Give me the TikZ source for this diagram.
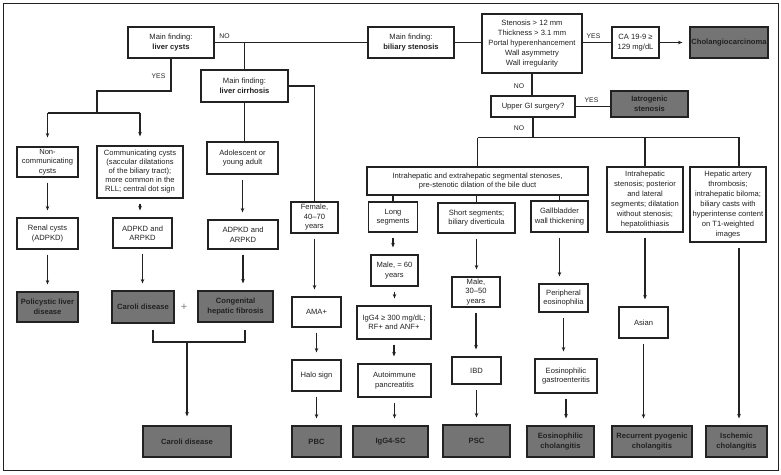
\documentclass[tikz,border=0pt]{standalone}
\usepackage{fontspec}
\setmainfont{Liberation Sans}
\usetikzlibrary{arrows.meta}
\definecolor{inkc}{RGB}{34,34,34}
\definecolor{resfill}{RGB}{116,116,116}

\begin{document}
\begin{tikzpicture}[x=1pt, y=-1pt, inkc, line width=1.1pt,
    every node/.style={font=\fontsize{7.6}{9.5}\selectfont, text=inkc},
    box/.style 2 args={draw=inkc, fill=white, align=center, inner sep=0pt, minimum width=#1pt, minimum height=#2pt},
    keybox/.style 2 args={box={#1}{#2}, line width=2.2pt, font=\fontsize{7.6}{10}\selectfont},
    result/.style 2 args={box={#1}{#2}, fill=resfill, font=\fontsize{7.6}{9.5}\selectfont\bfseries},
    lbl/.style={font=\fontsize{6.8}{8}\selectfont, inner sep=0pt},
    arr/.style={-{Stealth[length=4.5pt,width=3.6pt]}, shorten >=7pt},
    chainarr/.style={arr, shorten <=5pt}]
    \useasboundingbox (0,0) rectangle (781,474);
    \draw[line width=0.9pt] (3,3) rectangle (778,470);

    \node[box={86}{31}] (cysts) at (171,42.5) {Main finding:\\\textbf{liver cysts}};
    \node[box={87}{32}] (cirrhosis) at (244.5,86) {Main finding:\\\textbf{liver cirrhosis}};
    \node[box={86}{31}] (biliary) at (411,42.5) {Main finding:\\\textbf{biliary stenosis}};
    \node[keybox={100}{59}] (criteria) at (532,43.5) {Stenosis > 12 mm\\Thickness > 3.1 mm\\Portal hyperenhancement\\Wall asymmetry\\Wall irregularity};
    \node[box={47}{31}] (ca) at (635.5,42.5) {CA 19-9 ≥\\129 mg/dL};
    \node[result={78}{31}] (cca) at (729,42.5) {Cholangiocarcinoma};
    \node[box={84}{21}] (surgery) at (533,106.5) {Upper GI surgery?};
    \node[result={77}{26}] (iatro) at (649.5,104) {Iatrogenic\\stenosis};

    \node[box={61}{30}] (noncomm) at (47.5,162) {Non-\\communicating\\cysts};
    \node[box={61}{31}] (renal) at (47.5,233.5) {Renal cysts\\(ADPKD)};
    \node[result={61}{30}] (pcld) at (47.5,307) {Policystic liver\\disease};
    \node[box={86}{52}, font=\fontsize{7.6}{9}\selectfont] (comm) at (140,172) {Communicating cysts\\(saccular dilatations\\of the biliary tract);\\more common in the\\RLL; central dot sign};
    \node[box={59}{30}] (adpkdA) at (142.5,233) {ADPKD and\\ARPKD};
    \node[result={62}{32}] (caroliA) at (143,307) {Caroli disease};
    \node[box={71}{32}] (adol) at (242.5,158) {Adolescent or\\young adult};
    \node[box={70}{29}] (adpkdB) at (243,234.5) {ADPKD and\\ARPKD};
    \node[result={75}{31}] (chf) at (235.5,306.5) {Congenital\\hepatic fibrosis};
    \node[font=\fontsize{11}{11}\selectfont, text=gray] (plus) at (184,307) {+};
    \node[result={88}{31}] (caroliB) at (187,441.5) {Caroli disease};

    \node[box={47}{31}] (female) at (314.5,217.5) {Female,\\40–70\\years};
    \node[box={49}{30}] (ama) at (316.5,312) {AMA+};
    \node[box={49}{31}] (halo) at (316.5,375.5) {Halo sign};
    \node[result={49}{31}] (pbcA) at (316.5,441.5) {PBC};

    \node[box={221}{28}] (segm) at (477.5,181) {Intrahepatic and extrahepatic segmental stenoses,\\pre-stenotic dilation of the bile duct};
    \node[box={49}{30}] (longseg) at (393,217) {Long\\segments};
    \node[box={47}{31}] (male60) at (394.5,270.5) {Male, = 60\\years};
    \node[box={74}{33}] (igg4) at (394,322.5) {IgG4 ≥ 300 mg/dL;\\RF+ and ANF+};
    \node[box={73}{33}] (aip) at (394.5,380.5) {Autoimmune\\pancreatitis};
    \node[result={75}{31}] (iggsc) at (390.5,441.5) {IgG4-SC};

    \node[box={77}{30}] (shortseg) at (476.5,218) {Short segments;\\biliary diverticula};
    \node[box={48}{30}] (male30) at (476,292) {Male,\\30–50\\years};
    \node[box={49}{27}] (ibd) at (476.5,370.5) {IBD};
    \node[result={67}{32}] (pscB) at (476.5,441) {PSC};

    \node[box={57}{31}] (gall) at (559.5,216.5) {Gallbladder\\wall thickening};
    \node[box={49}{28}] (periph) at (563.5,298) {Peripheral\\eosinophilia};
    \node[box={62}{34}] (eosgi) at (566,376) {Eosinophilic\\gastroenteritis};
    \node[result={67}{31}] (eoschol) at (560.5,441.5) {Eosinophilic\\cholangitis};

    \node[box={76}{65}, font=\fontsize{7.6}{10}\selectfont] (intra) at (645,199.5) {Intrahepatic\\stenosis; posterior\\and lateral\\segments; dilatation\\without stenosis;\\hepatolithiasis};
    \node[box={49}{31}] (asian) at (643.5,322.5) {Asian};
    \node[result={80}{31}] (rpc) at (652,441.5) {Recurrent pyogenic\\cholangitis};

    \node[keybox={76}{75}] (hat) at (728,204.5) {Hepatic artery\\thrombosis;\\intrahepatic biloma;\\biliary casts with\\hyperintense content\\on T1-weighted\\images};
    \node[result={61}{31}] (ischemic) at (736.5,441.5) {Ischemic\\cholangitis};

    \node[lbl] (noA) at (224.5,36.5) {NO};
    \node[lbl] (yesA) at (158.5,76) {YES};
    \node[lbl] (yesB) at (593.5,36) {YES};
    \node[lbl] (noB) at (519,86) {NO};
    \node[lbl] (yesC) at (591.5,100.5) {YES};
    \node[lbl] (noC) at (519,128) {NO};

    \draw (cysts) -- (biliary);
    \draw (cysts.east -| cirrhosis.north) -- (cirrhosis.north);
    \draw (biliary.east) -- (biliary.east -| criteria.west);
    \draw (criteria.east |- ca.west) -- (ca.west);
    \draw[arr] (ca) -- (cca);
    \draw (criteria.south) -- (criteria.south |- surgery.north);
    \draw (surgery.east) -- (surgery.east -| iatro.west);
    \draw (surgery.south) -- ++(0,20) coordinate (split);
    \draw (segm.north |- split) -- ([xshift=11pt]hat.north |- split) -- ([xshift=11pt]hat.north);
    \draw (segm.north |- split) -- (segm.north);
    \draw (intra.north |- split) -- (intra.north);
    \foreach \sub in {longseg, shortseg, gall}
      \draw (\sub.north) -- (\sub.north |- segm.south);

    \draw (cirrhosis.east) -| (female.north);
    \draw (cirrhosis.south) -- (cirrhosis.south |- adol.north);

    \coordinate (yesbend) at (97,91);
    \coordinate (yesfork) at (97,113);
    \draw (cysts.south) |- (yesbend) -- (yesfork);
    \draw (noncomm.north |- yesfork) -- (comm.north |- yesfork);
    \draw[arr, shorten >=9pt] (noncomm.north |- yesfork) -- (noncomm.north);
    \draw[arr, shorten >=9pt] (comm.north |- yesfork) -- (comm.north);

    \foreach \a/\b in {noncomm/renal, renal/pcld, comm/adpkdA, adpkdA/caroliA, adol/adpkdB, adpkdB/chf,
        female/ama, ama/halo, halo/pbcA, longseg/male60, male60/igg4, igg4/aip, aip/iggsc,
        shortseg/male30, male30/ibd, ibd/pscB, gall/periph, periph/eosgi, eosgi/eoschol,
        intra/asian, asian/rpc}
      \draw[chainarr] (\a.south) -- (\a.south |- \b.north);
    \draw[chainarr] ([xshift=11pt]hat.south) -- ([xshift=11pt]hat.south |- ischemic.north);

    \coordinate (brackL) at (153,342);
    \coordinate (brackR) at (245,342);
    \draw ([yshift=12pt]brackL) -- (brackL) -- (brackR) -- ([yshift=12pt]brackR);
    \draw[arr, shorten >=9pt] (caroliB.north |- brackL) -- (caroliB.north);
\end{tikzpicture}
\end{document}
